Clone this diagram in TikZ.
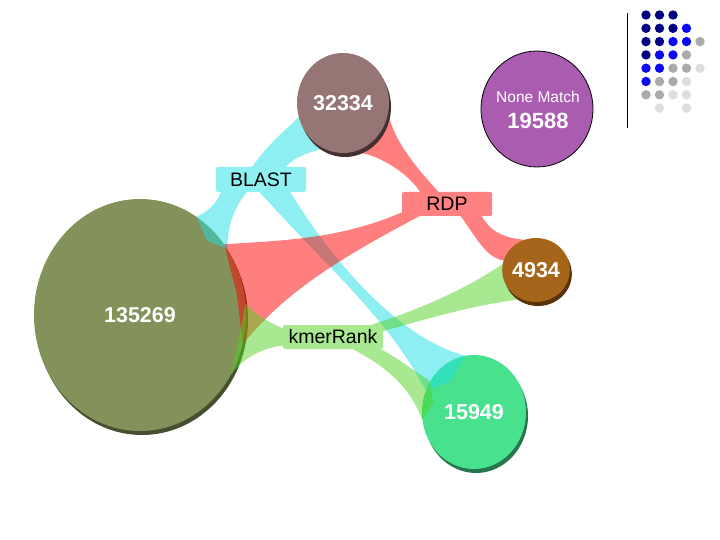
\documentclass[tikz,border=0pt]{standalone}
\usepackage{fontspec}
\setmainfont{Liberation Sans}
\usetikzlibrary{shapes.geometric,shadows,calc}

\definecolor{olivebub}{RGB}{130,146,90}
\definecolor{olivedark}{RGB}{70,80,48}
\definecolor{mauvebub}{RGB}{150,117,117}
\definecolor{mauvedark}{RGB}{68,48,48}
\definecolor{purplebub}{RGB}{170,92,176}
\definecolor{rustbub}{RGB}{165,101,26}
\definecolor{rustdark}{RGB}{88,50,12}
\definecolor{mintbub}{RGB}{72,226,142}
\definecolor{mintdark}{RGB}{40,118,78}
\definecolor{ribcyan}{RGB}{30,225,230}
\definecolor{ribred}{RGB}{255,0,0}
\definecolor{ribgreen}{RGB}{80,210,35}
\definecolor{dotn}{RGB}{0,0,128}
\definecolor{dotb}{RGB}{10,10,240}
\definecolor{dotg}{RGB}{170,170,170}
\definecolor{dotl}{RGB}{222,222,222}
\definecolor{dotx}{RGB}{255,255,255}

\pgfdeclarelayer{under}
\pgfdeclarelayer{bands}
\pgfsetlayers{under,bands,main}

\tikzset{
  bubble/.style={ellipse, inner sep=0pt, text=white, font=\fontsize{21.5}{24}\selectfont\bfseries},
  shade bubble/.style={drop shadow={shadow xshift=2pt, shadow yshift=-4pt, opacity=1, fill=#1}},
  tool/.style={rectangle, rounded corners=2pt, inner sep=0pt, font=\fontsize{19.5}{22}\selectfont},
  band/.style={fill=#1, fill opacity=0.5},
}

\begin{document}
\begin{tikzpicture}[x=1pt, y=-1pt]
    % Bubbles under the bands
    \begin{pgfonlayer}{under}
    \path[use as bounding box, fill=white] (0,0) rectangle (720,540);
    \node[bubble, fill=olivebub, minimum width=212pt, minimum height=232pt, shade bubble=olivedark] (big) at (140,315) {135269};
    \node[bubble, fill=mintbub, minimum width=104pt, minimum height=114pt, shade bubble=mintdark] (c15949) at (474,412) {15949};
    \end{pgfonlayer}

    % Bubbles over the bands
    \node[bubble, fill=mauvebub, minimum width=92pt, minimum height=100pt, shade bubble=mauvedark] (c32334) at (343,103) {32334};
    \node[bubble, fill=rustbub, minimum width=58pt, minimum height=64pt, shade bubble=rustdark] (c4934) at (536,270) {4934};
    \node[bubble, fill=purplebub, draw=black, line width=0.8pt, minimum width=112pt, minimum height=116pt] (none) at (537,109) {};
    \node[text=white, font=\fontsize{15.5}{18}\selectfont] (nonetitle) at ($(none.center)+(1,-12)$) {None Match};
    \node[text=white, font=\fontsize{22}{24}\selectfont\bfseries] (nonecount) at ($(none.center)+(1,12)$) {19588};

    % Methods
    \node[tool, fill=ribcyan!50, minimum width=90pt, minimum height=25pt] (blast) at (261,179.5) {BLAST};
    \node[tool, fill=ribred!50, minimum width=90pt, minimum height=24pt] (rdp) at (447,204) {RDP};
    \node[tool, fill=ribgreen!50, minimum width=100pt, minimum height=24pt] (kmer) at (333,337) {kmerRank};

    % Bands
    \begin{pgfonlayer}{bands}
    \fill[band=ribcyan] ($(blast.north)+(-11,4)$) .. controls +(12,-21) and +(-13,12) .. (c32334.198) -- (c32334.center) -- (c32334.247) .. controls +(-17,4) and +(7,-12) .. ($(blast.north)+(22,4)$) -- cycle;
    \fill[band=ribcyan] ($(blast.south)+(-39,-4)$) .. controls +(-3,15) and +(10,-5) .. (big.60) -- ($(big.center)!0.9!(big.48)$) -- (big.37) .. controls +(0,-30) and +(-12,14) .. ($(blast.south)+(-11,-4)$) -- cycle;
    \fill[band=ribcyan] ($(blast.south)+(-5,-4)$) .. controls +(68,76) and +(-36,-71) .. (c15949.156) -- ($(c15949.center)!0.7!(c15949.128)$) -- (c15949.99) .. controls +(-70,-18) and +(38,64) .. ($(blast.south)+(27,-4)$) -- cycle;

    \fill[band=ribred] ($(rdp.north)+(-25,4)$) .. controls +(-8,-18) and +(28,3) .. (c32334.283) -- (c32334.center) -- (c32334.348) .. controls +(5,30) and +(-20,-22) .. ($(rdp.north)+(-5,4)$) -- cycle;
    \fill[band=ribred] ($(rdp.south)+(-40,-6)$) .. controls +(-67,30) and +(56,-4) .. (big.40) -- ($(big.center)!0.93!(big.12)$) -- (big.344) .. controls +(43,-54) and +(-82,43) .. ($(rdp.south)+(-20,-4)$) -- cycle;
    \fill[band=ribred] ($(rdp.south)+(11,-4)$) .. controls +(20,28) and +(-18,-4) .. (c4934.164) -- (c4934.center) -- (c4934.111) .. controls +(-25,-2) and +(7,16) .. ($(rdp.south)+(33,-4)$) -- cycle;

    \fill[band=ribgreen] ($(kmer.west)+(4,-7)$) .. controls +(-19,-8) and +(10,11) .. (big.6) -- (big.327) .. controls +(15,-20) and +(-20,2) .. ($(kmer.west)+(4,8)$) -- cycle;
    \fill[band=ribgreen] ($(kmer.north)+(32,2)$) .. controls +(55,-17) and +(-37,25) .. (c4934.170) -- (c4934.center) -- (c4934.243) .. controls +(-52,7) and +(50,-14) .. ($(kmer.east)+(-3,-5)$) -- cycle;
    \fill[band=ribgreen] ($(kmer.south)+(12,-4)$) .. controls +(40,20) and +(-13,-35) .. (c15949.189) -- ($(c15949.center)!0.8!(c15949.167)$) -- (c15949.145) .. controls +(-20,-13) and +(18,7) .. ($(kmer.south)+(39,-4)$) -- cycle;
    \end{pgfonlayer}

    % Corner dots
    \draw[line width=1pt] (627,13) -- (627,128);
    \foreach \row [count=\j] in {{n,n,n,x,x},{n,n,n,b,x},{n,n,b,b,g},{n,b,b,g,x},{b,b,g,g,l},{b,g,g,l,x},{g,g,l,l,x},{x,l,x,l,x}}
        \foreach \c [count=\i] in \row
            \fill[dot\c] (632.5+13.5*\i, 1.7+13.3*\j) circle (4.7pt);

\end{tikzpicture}
\end{document}
